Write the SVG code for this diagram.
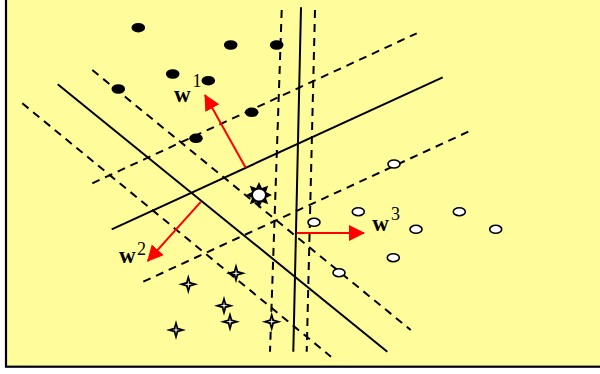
<svg xmlns="http://www.w3.org/2000/svg" width="600" height="374" viewBox="0 0 600 374">
<style>
.solid{stroke:#000;stroke-width:2;fill:none}
.dash{stroke:#000;stroke-width:2;fill:none;stroke-dasharray:8 6}
.vec{stroke:#FF0000;stroke-width:2;fill:none}
.c1{fill:#000}
.c3{fill:#fff;stroke:#000;stroke-width:1.6}
.lbl{font-family:"Liberation Serif",serif;font-weight:bold;font-size:23px;fill:#000}
.sup{font-family:"Liberation Serif",serif;font-size:18px;fill:#000}
</style>
<defs>
<marker id="ah" markerUnits="userSpaceOnUse" markerWidth="18" markerHeight="18" refX="15" refY="8" orient="auto">
<path d="M0,0 L16,8 L0,16 Z" fill="#FF0000"/>
</marker>
<g id="star4">
<path d="M0,-10 L2.2,-2.2 L10,0 L2.2,2.2 L0,10 L-2.2,2.2 L-10,0 L-2.2,-2.2 Z" fill="#000"/>
<path d="M0,-4 L0.6,-0.6 L4,0 L0.6,0.6 L0,4 L-0.6,0.6 L-4,0 L-0.6,-0.6 Z" fill="#fff"/>
</g>
</defs>
<rect x="0" y="0" width="600" height="374" fill="#fff"/>
<rect x="6" y="-10" width="610" height="376.7" fill="#FFFC9C" stroke="#000" stroke-width="2.2"/>
<g id="connectors">
<line class="solid" x1="57.7" y1="84.3" x2="387.3" y2="351.7"/>
<line class="solid" x1="111.7" y1="229.3" x2="442.7" y2="77.3"/>
<line class="solid" x1="301" y1="7.3" x2="293.3" y2="351.7"/>
<line class="dash" x1="92.3" y1="70" x2="410.7" y2="330"/>
<line class="dash" x1="22.3" y1="103.3" x2="331" y2="356.7"/>
<line class="dash" x1="92.3" y1="183.3" x2="416.7" y2="33.3"/>
<line class="dash" x1="143.3" y1="281.7" x2="468.3" y2="131.7"/>
<line class="dash" x1="281.7" y1="10" x2="270" y2="351.7"/>
<line class="dash" x1="315" y1="10" x2="306.7" y2="351.7"/>
<line class="vec" x1="245.7" y1="167.7" x2="205" y2="95" marker-end="url(#ah)"/>
<line class="vec" x1="201" y1="201.7" x2="147.7" y2="261" marker-end="url(#ah)"/>
<line class="vec" x1="296.7" y1="233" x2="364" y2="233" marker-end="url(#ah)"/>
</g>
<g id="class1">
<ellipse class="c1" cx="138.3" cy="27.7" rx="6.8" ry="4.8"/>
<ellipse class="c1" cx="230.7" cy="45" rx="6.8" ry="4.8"/>
<ellipse class="c1" cx="276.7" cy="45" rx="6.8" ry="4.8"/>
<ellipse class="c1" cx="172.7" cy="74" rx="6.8" ry="4.8"/>
<ellipse class="c1" cx="208.3" cy="80.7" rx="6.8" ry="4.8"/>
<ellipse class="c1" cx="118.3" cy="89" rx="6.8" ry="4.8"/>
<ellipse class="c1" cx="251.7" cy="112.3" rx="6.8" ry="4.8"/>
<ellipse class="c1" cx="196" cy="138.3" rx="6.8" ry="4.8"/>
</g>
<g id="class3">
<ellipse class="c3" cx="394" cy="164" rx="6" ry="4"/>
<ellipse class="c3" cx="358.3" cy="211.7" rx="6" ry="4"/>
<ellipse class="c3" cx="459.3" cy="211.7" rx="6" ry="4"/>
<ellipse class="c3" cx="314" cy="222.3" rx="6" ry="4"/>
<ellipse class="c3" cx="416" cy="229.3" rx="6" ry="4"/>
<ellipse class="c3" cx="495.7" cy="229.3" rx="6" ry="4"/>
<ellipse class="c3" cx="393.3" cy="257.7" rx="6" ry="4"/>
<ellipse class="c3" cx="339" cy="272.7" rx="6" ry="4"/>
</g>
<g id="class2">
<use href="#star4" x="236" y="273.3"/>
<use href="#star4" x="188.3" y="284.3"/>
<use href="#star4" x="224" y="305.7"/>
<use href="#star4" x="230" y="321.7"/>
<use href="#star4" x="271.7" y="321.7"/>
<use href="#star4" x="176" y="330"/>
</g>
<g id="sun">
<polygon points="259,182 261.9,188 268.2,185.8 266,192.1 272,195 266,197.9 268.2,204.2 261.9,202 259,208 256.1,202 249.8,204.2 252,197.9 246,195 252,192.1 249.8,185.8 256.1,188" fill="#000"/>
<ellipse cx="259" cy="195" rx="6" ry="5.5" fill="#fff"/>
</g>
<g id="label-w1">
<text class="lbl" x="174" y="101.7">w</text>
<text class="sup" x="192.5" y="87">1</text>
</g>
<g id="label-w2">
<text class="lbl" x="119" y="263.3">w</text>
<text class="sup" x="137" y="255">2</text>
</g>
<g id="label-w3">
<text class="lbl" x="372.3" y="231">w</text>
<text class="sup" x="391" y="220">3</text>
</g>
</svg>
